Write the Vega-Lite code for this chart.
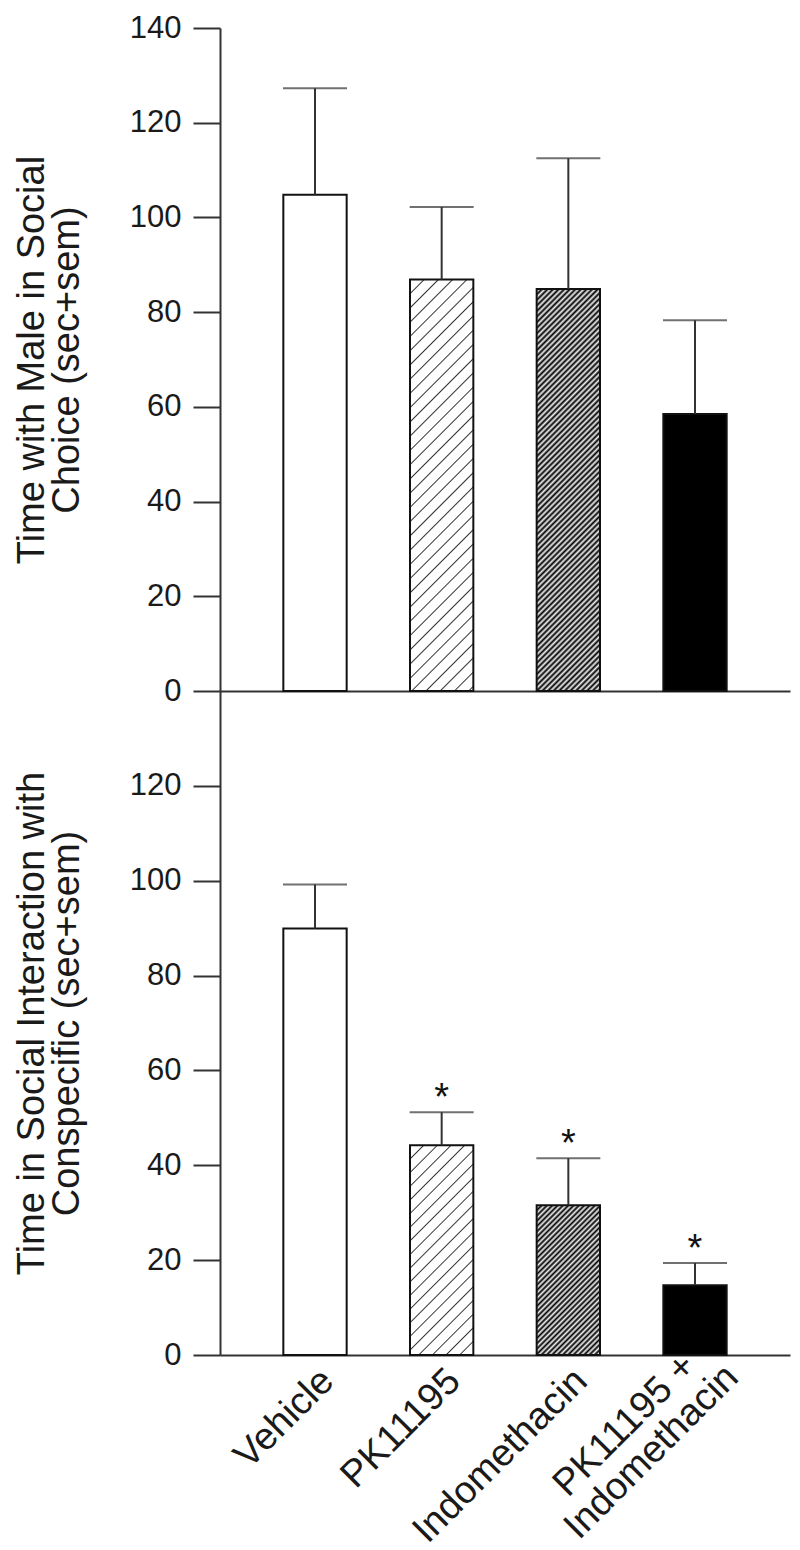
{
  "$schema": "https://vega.github.io/schema/vega-lite/v6.json",
  "background": "white",
  "padding": {"left": 13, "top": 12, "right": 5, "bottom": 5},
  "spacing": 0,
  "bounds": "flush",
  "config": {
    "view": {"stroke": null},
    "font": "Liberation Sans",
    "axis": {
      "domainColor": "#333333",
      "domainWidth": 2,
      "tickColor": "#333333",
      "tickWidth": 2,
      "grid": false,
      "labelColor": "#1a1a1a",
      "titleColor": "#1a1a1a",
      "labelFont": "Liberation Sans",
      "titleFont": "Liberation Sans",
      "titleFontWeight": "normal",
      "labelLimit": 0
    },
    "axisY": {
      "tickSize": 27,
      "labelPadding": 12,
      "labelFontSize": 31,
      "titleFontSize": 38,
      "titleLineHeight": 35,
      "titlePadding": 43
    }
  },
  "datasets": {
    "top": [
      {"group": "Vehicle", "mean": 104.8, "upper": 127.3},
      {"group": "PK11195", "mean": 86.9, "upper": 102.2},
      {"group": "Indomethacin", "mean": 84.9, "upper": 112.5},
      {"group": "PK11195 + Indomethacin", "mean": 58.5, "upper": 78.3}
    ],
    "bottom": [
      {"group": "Vehicle", "mean": 89.9, "upper": 99.2, "sig": ""},
      {"group": "PK11195", "mean": 44.2, "upper": 51.2, "sig": "*"},
      {"group": "Indomethacin", "mean": 31.6, "upper": 41.5, "sig": "*"},
      {"group": "PK11195 + Indomethacin", "mean": 14.7, "upper": 19.4, "sig": "*"}
    ]
  },
  "vconcat": [
    {
      "width": 570,
      "height": 663,
      "data": {"name": "top"},
      "encoding": {
        "x": {
          "field": "group",
          "type": "nominal",
          "scale": {"domain": ["Vehicle", "PK11195", "Indomethacin", "PK11195 + Indomethacin"], "paddingInner": 0.5, "paddingOuter": 0.5},
          "axis": {"labels": false, "ticks": false, "title": null, "domain": true}
        }
      },
      "layer": [
        {
          "transform": [{"filter": "datum.group === 'Vehicle' || datum.group === 'PK11195 + Indomethacin'"}],
          "mark": {"type": "bar", "stroke": "#111111", "strokeWidth": 2},
          "encoding": {
            "y": {
              "field": "mean",
              "type": "quantitative",
              "scale": {"domain": [0, 140], "nice": false},
              "axis": {"values": [0, 20, 40, 60, 80, 100, 120, 140], "title": ["Time with Male in Social", "Choice (sec+sem)"]}
            },
            "fill": {"field": "group", "type": "nominal", "scale": {"domain": ["Vehicle", "PK11195 + Indomethacin"], "range": ["#ffffff", "#000000"]}, "legend": null}
          }
        },
        {
          "transform": [{"filter": "datum.group === 'PK11195'"}],
          "mark": {"type": "bar", "stroke": "#111111", "strokeWidth": 2,
            "fill": {"gradient": "linear", "x1": 0, "y1": 0, "x2": 0.1735, "y2": 1.1274, "stops": [
              {"offset":0.027,"color":"#fff"},{"offset":0.03,"color":"#333"},{"offset":0.033,"color":"#fff"},
              {"offset":0.057,"color":"#fff"},{"offset":0.06,"color":"#333"},{"offset":0.063,"color":"#fff"},
              {"offset":0.087,"color":"#fff"},{"offset":0.09,"color":"#333"},{"offset":0.093,"color":"#fff"},
              {"offset":0.117,"color":"#fff"},{"offset":0.12,"color":"#333"},{"offset":0.123,"color":"#fff"},
              {"offset":0.147,"color":"#fff"},{"offset":0.15,"color":"#333"},{"offset":0.153,"color":"#fff"},
              {"offset":0.177,"color":"#fff"},{"offset":0.18,"color":"#333"},{"offset":0.183,"color":"#fff"},
              {"offset":0.207,"color":"#fff"},{"offset":0.21,"color":"#333"},{"offset":0.213,"color":"#fff"},
              {"offset":0.237,"color":"#fff"},{"offset":0.24,"color":"#333"},{"offset":0.243,"color":"#fff"},
              {"offset":0.267,"color":"#fff"},{"offset":0.27,"color":"#333"},{"offset":0.273,"color":"#fff"},
              {"offset":0.297,"color":"#fff"},{"offset":0.3,"color":"#333"},{"offset":0.303,"color":"#fff"},
              {"offset":0.327,"color":"#fff"},{"offset":0.33,"color":"#333"},{"offset":0.333,"color":"#fff"},
              {"offset":0.357,"color":"#fff"},{"offset":0.36,"color":"#333"},{"offset":0.363,"color":"#fff"},
              {"offset":0.387,"color":"#fff"},{"offset":0.39,"color":"#333"},{"offset":0.393,"color":"#fff"},
              {"offset":0.417,"color":"#fff"},{"offset":0.42,"color":"#333"},{"offset":0.423,"color":"#fff"},
              {"offset":0.447,"color":"#fff"},{"offset":0.45,"color":"#333"},{"offset":0.453,"color":"#fff"},
              {"offset":0.477,"color":"#fff"},{"offset":0.48,"color":"#333"},{"offset":0.483,"color":"#fff"},
              {"offset":0.507,"color":"#fff"},{"offset":0.51,"color":"#333"},{"offset":0.513,"color":"#fff"},
              {"offset":0.537,"color":"#fff"},{"offset":0.54,"color":"#333"},{"offset":0.543,"color":"#fff"},
              {"offset":0.567,"color":"#fff"},{"offset":0.57,"color":"#333"},{"offset":0.573,"color":"#fff"},
              {"offset":0.597,"color":"#fff"},{"offset":0.6,"color":"#333"},{"offset":0.603,"color":"#fff"},
              {"offset":0.627,"color":"#fff"},{"offset":0.63,"color":"#333"},{"offset":0.633,"color":"#fff"},
              {"offset":0.657,"color":"#fff"},{"offset":0.66,"color":"#333"},{"offset":0.663,"color":"#fff"},
              {"offset":0.687,"color":"#fff"},{"offset":0.69,"color":"#333"},{"offset":0.693,"color":"#fff"},
              {"offset":0.717,"color":"#fff"},{"offset":0.72,"color":"#333"},{"offset":0.723,"color":"#fff"},
              {"offset":0.747,"color":"#fff"},{"offset":0.75,"color":"#333"},{"offset":0.753,"color":"#fff"},
              {"offset":0.777,"color":"#fff"},{"offset":0.78,"color":"#333"},{"offset":0.783,"color":"#fff"},
              {"offset":0.807,"color":"#fff"},{"offset":0.81,"color":"#333"},{"offset":0.813,"color":"#fff"},
              {"offset":0.837,"color":"#fff"},{"offset":0.84,"color":"#333"},{"offset":0.843,"color":"#fff"},
              {"offset":0.867,"color":"#fff"},{"offset":0.87,"color":"#333"},{"offset":0.873,"color":"#fff"},
              {"offset":0.897,"color":"#fff"},{"offset":0.9,"color":"#333"},{"offset":0.903,"color":"#fff"},
              {"offset":0.927,"color":"#fff"},{"offset":0.93,"color":"#333"},{"offset":0.933,"color":"#fff"},
              {"offset":0.957,"color":"#fff"},{"offset":0.96,"color":"#333"},{"offset":0.963,"color":"#fff"},
              {"offset":0.987,"color":"#fff"},{"offset":0.99,"color":"#333"},{"offset":0.993,"color":"#fff"}
            ]}},
          "encoding": {"y": {"field": "mean", "type": "quantitative"}}
        },
        {
          "transform": [{"filter": "datum.group === 'Indomethacin'"}],
          "mark": {"type": "bar", "stroke": "#111111", "strokeWidth": 2,
            "fill": {"gradient": "linear", "x1": 0, "y1": 0, "x2": 0.1779, "y2": 1.1294, "stops": [
              {"offset":0,"color":"#000"},{"offset":0.006,"color":"#eee"},{"offset":0.012,"color":"#000"},{"offset":0.018,"color":"#eee"},
              {"offset":0.024,"color":"#000"},{"offset":0.03,"color":"#eee"},{"offset":0.036,"color":"#000"},{"offset":0.042,"color":"#eee"},
              {"offset":0.048,"color":"#000"},{"offset":0.054,"color":"#eee"},{"offset":0.06,"color":"#000"},{"offset":0.066,"color":"#eee"},
              {"offset":0.072,"color":"#000"},{"offset":0.078,"color":"#eee"},{"offset":0.084,"color":"#000"},{"offset":0.09,"color":"#eee"},
              {"offset":0.096,"color":"#000"},{"offset":0.102,"color":"#eee"},{"offset":0.108,"color":"#000"},{"offset":0.114,"color":"#eee"},
              {"offset":0.12,"color":"#000"},{"offset":0.126,"color":"#eee"},{"offset":0.132,"color":"#000"},{"offset":0.138,"color":"#eee"},
              {"offset":0.144,"color":"#000"},{"offset":0.15,"color":"#eee"},{"offset":0.156,"color":"#000"},{"offset":0.162,"color":"#eee"},
              {"offset":0.168,"color":"#000"},{"offset":0.174,"color":"#eee"},{"offset":0.18,"color":"#000"},{"offset":0.186,"color":"#eee"},
              {"offset":0.192,"color":"#000"},{"offset":0.198,"color":"#eee"},{"offset":0.204,"color":"#000"},{"offset":0.21,"color":"#eee"},
              {"offset":0.216,"color":"#000"},{"offset":0.222,"color":"#eee"},{"offset":0.228,"color":"#000"},{"offset":0.234,"color":"#eee"},
              {"offset":0.24,"color":"#000"},{"offset":0.246,"color":"#eee"},{"offset":0.252,"color":"#000"},{"offset":0.258,"color":"#eee"},
              {"offset":0.264,"color":"#000"},{"offset":0.27,"color":"#eee"},{"offset":0.276,"color":"#000"},{"offset":0.282,"color":"#eee"},
              {"offset":0.288,"color":"#000"},{"offset":0.294,"color":"#eee"},{"offset":0.3,"color":"#000"},{"offset":0.306,"color":"#eee"},
              {"offset":0.312,"color":"#000"},{"offset":0.318,"color":"#eee"},{"offset":0.324,"color":"#000"},{"offset":0.33,"color":"#eee"},
              {"offset":0.336,"color":"#000"},{"offset":0.342,"color":"#eee"},{"offset":0.348,"color":"#000"},{"offset":0.354,"color":"#eee"},
              {"offset":0.36,"color":"#000"},{"offset":0.366,"color":"#eee"},{"offset":0.372,"color":"#000"},{"offset":0.378,"color":"#eee"},
              {"offset":0.384,"color":"#000"},{"offset":0.39,"color":"#eee"},{"offset":0.396,"color":"#000"},{"offset":0.402,"color":"#eee"},
              {"offset":0.408,"color":"#000"},{"offset":0.414,"color":"#eee"},{"offset":0.42,"color":"#000"},{"offset":0.426,"color":"#eee"},
              {"offset":0.432,"color":"#000"},{"offset":0.438,"color":"#eee"},{"offset":0.444,"color":"#000"},{"offset":0.45,"color":"#eee"},
              {"offset":0.456,"color":"#000"},{"offset":0.462,"color":"#eee"},{"offset":0.468,"color":"#000"},{"offset":0.474,"color":"#eee"},
              {"offset":0.48,"color":"#000"},{"offset":0.486,"color":"#eee"},{"offset":0.492,"color":"#000"},{"offset":0.498,"color":"#eee"},
              {"offset":0.504,"color":"#000"},{"offset":0.51,"color":"#eee"},{"offset":0.516,"color":"#000"},{"offset":0.522,"color":"#eee"},
              {"offset":0.528,"color":"#000"},{"offset":0.534,"color":"#eee"},{"offset":0.54,"color":"#000"},{"offset":0.546,"color":"#eee"},
              {"offset":0.552,"color":"#000"},{"offset":0.558,"color":"#eee"},{"offset":0.564,"color":"#000"},{"offset":0.57,"color":"#eee"},
              {"offset":0.576,"color":"#000"},{"offset":0.582,"color":"#eee"},{"offset":0.588,"color":"#000"},{"offset":0.594,"color":"#eee"},
              {"offset":0.6,"color":"#000"},{"offset":0.606,"color":"#eee"},{"offset":0.612,"color":"#000"},{"offset":0.618,"color":"#eee"},
              {"offset":0.624,"color":"#000"},{"offset":0.63,"color":"#eee"},{"offset":0.636,"color":"#000"},{"offset":0.642,"color":"#eee"},
              {"offset":0.648,"color":"#000"},{"offset":0.654,"color":"#eee"},{"offset":0.66,"color":"#000"},{"offset":0.666,"color":"#eee"},
              {"offset":0.672,"color":"#000"},{"offset":0.678,"color":"#eee"},{"offset":0.684,"color":"#000"},{"offset":0.69,"color":"#eee"},
              {"offset":0.696,"color":"#000"},{"offset":0.702,"color":"#eee"},{"offset":0.708,"color":"#000"},{"offset":0.714,"color":"#eee"},
              {"offset":0.72,"color":"#000"},{"offset":0.726,"color":"#eee"},{"offset":0.732,"color":"#000"},{"offset":0.738,"color":"#eee"},
              {"offset":0.744,"color":"#000"},{"offset":0.75,"color":"#eee"},{"offset":0.756,"color":"#000"},{"offset":0.762,"color":"#eee"},
              {"offset":0.768,"color":"#000"},{"offset":0.774,"color":"#eee"},{"offset":0.78,"color":"#000"},{"offset":0.786,"color":"#eee"},
              {"offset":0.792,"color":"#000"},{"offset":0.798,"color":"#eee"},{"offset":0.804,"color":"#000"},{"offset":0.81,"color":"#eee"},
              {"offset":0.816,"color":"#000"},{"offset":0.822,"color":"#eee"},{"offset":0.828,"color":"#000"},{"offset":0.834,"color":"#eee"},
              {"offset":0.84,"color":"#000"},{"offset":0.846,"color":"#eee"},{"offset":0.852,"color":"#000"},{"offset":0.858,"color":"#eee"},
              {"offset":0.864,"color":"#000"},{"offset":0.87,"color":"#eee"},{"offset":0.876,"color":"#000"},{"offset":0.882,"color":"#eee"},
              {"offset":0.888,"color":"#000"},{"offset":0.894,"color":"#eee"},{"offset":0.9,"color":"#000"},{"offset":0.906,"color":"#eee"},
              {"offset":0.912,"color":"#000"},{"offset":0.918,"color":"#eee"},{"offset":0.924,"color":"#000"},{"offset":0.93,"color":"#eee"},
              {"offset":0.936,"color":"#000"},{"offset":0.942,"color":"#eee"},{"offset":0.948,"color":"#000"},{"offset":0.954,"color":"#eee"},
              {"offset":0.96,"color":"#000"},{"offset":0.966,"color":"#eee"},{"offset":0.972,"color":"#000"},{"offset":0.978,"color":"#eee"},
              {"offset":0.984,"color":"#000"},{"offset":0.99,"color":"#eee"},{"offset":0.996,"color":"#000"}
            ]}},
          "encoding": {"y": {"field": "mean", "type": "quantitative"}}
        },
        {
          "mark": {"type": "rule", "color": "#333333", "strokeWidth": 2},
          "encoding": {"y": {"field": "mean", "type": "quantitative"}, "y2": {"field": "upper"}}
        },
        {
          "mark": {"type": "tick", "color": "#333333", "thickness": 2, "size": 64},
          "encoding": {"y": {"field": "upper", "type": "quantitative"}}
        }
      ]
    },
    {
      "width": 570,
      "height": 664,
      "data": {"name": "bottom"},
      "encoding": {
        "x": {
          "field": "group",
          "type": "nominal",
          "scale": {"domain": ["Vehicle", "PK11195", "Indomethacin", "PK11195 + Indomethacin"], "paddingInner": 0.5, "paddingOuter": 0.5},
          "axis": {
            "title": null,
            "ticks": false,
            "labelAngle": -45,
            "labelFontSize": 38,
            "labelLineHeight": 38,
            "labelBaseline": "middle",
            "labelAlign": {"condition": {"test": "datum.value === 'PK11195 + Indomethacin'", "value": "center"}, "value": "right"},
            "labelOffset": {"condition": {"test": "datum.value === 'PK11195 + Indomethacin'", "value": -70}, "value": 13},
            "labelPadding": {"condition": {"test": "datum.value === 'PK11195 + Indomethacin'", "value": 70}, "value": 20},
            "labelExpr": "datum.value === 'PK11195 + Indomethacin' ? ['PK11195 +', 'Indomethacin'] : datum.label"
          }
        }
      },
      "layer": [
        {
          "transform": [{"filter": "datum.group === 'Vehicle' || datum.group === 'PK11195 + Indomethacin'"}],
          "mark": {"type": "bar", "stroke": "#111111", "strokeWidth": 2},
          "encoding": {
            "y": {
              "field": "mean",
              "type": "quantitative",
              "scale": {"domain": [0, 140], "nice": false},
              "axis": {"values": [0, 20, 40, 60, 80, 100, 120], "title": ["Time in Social Interaction with", "Conspecific (sec+sem)"]}
            },
            "fill": {"field": "group", "type": "nominal", "scale": {"domain": ["Vehicle", "PK11195 + Indomethacin"], "range": ["#ffffff", "#000000"]}, "legend": null}
          }
        },
        {
          "transform": [{"filter": "datum.group === 'PK11195'"}],
          "mark": {"type": "bar", "stroke": "#111111", "strokeWidth": 2,
            "fill": {"gradient": "linear", "x1": 0, "y1": 0, "x2": 0.3605, "y2": 1.1931, "stops": [
              {"offset":0.045,"color":"#fff"},{"offset":0.05,"color":"#333"},{"offset":0.055,"color":"#fff"},
              {"offset":0.095,"color":"#fff"},{"offset":0.1,"color":"#333"},{"offset":0.105,"color":"#fff"},
              {"offset":0.145,"color":"#fff"},{"offset":0.15,"color":"#333"},{"offset":0.155,"color":"#fff"},
              {"offset":0.195,"color":"#fff"},{"offset":0.2,"color":"#333"},{"offset":0.205,"color":"#fff"},
              {"offset":0.245,"color":"#fff"},{"offset":0.25,"color":"#333"},{"offset":0.255,"color":"#fff"},
              {"offset":0.295,"color":"#fff"},{"offset":0.3,"color":"#333"},{"offset":0.305,"color":"#fff"},
              {"offset":0.345,"color":"#fff"},{"offset":0.35,"color":"#333"},{"offset":0.355,"color":"#fff"},
              {"offset":0.395,"color":"#fff"},{"offset":0.4,"color":"#333"},{"offset":0.405,"color":"#fff"},
              {"offset":0.445,"color":"#fff"},{"offset":0.45,"color":"#333"},{"offset":0.455,"color":"#fff"},
              {"offset":0.495,"color":"#fff"},{"offset":0.5,"color":"#333"},{"offset":0.505,"color":"#fff"},
              {"offset":0.545,"color":"#fff"},{"offset":0.55,"color":"#333"},{"offset":0.555,"color":"#fff"},
              {"offset":0.595,"color":"#fff"},{"offset":0.6,"color":"#333"},{"offset":0.605,"color":"#fff"},
              {"offset":0.645,"color":"#fff"},{"offset":0.65,"color":"#333"},{"offset":0.655,"color":"#fff"},
              {"offset":0.695,"color":"#fff"},{"offset":0.7,"color":"#333"},{"offset":0.705,"color":"#fff"},
              {"offset":0.745,"color":"#fff"},{"offset":0.75,"color":"#333"},{"offset":0.755,"color":"#fff"},
              {"offset":0.795,"color":"#fff"},{"offset":0.8,"color":"#333"},{"offset":0.805,"color":"#fff"},
              {"offset":0.845,"color":"#fff"},{"offset":0.85,"color":"#333"},{"offset":0.855,"color":"#fff"},
              {"offset":0.895,"color":"#fff"},{"offset":0.9,"color":"#333"},{"offset":0.905,"color":"#fff"},
              {"offset":0.945,"color":"#fff"},{"offset":0.95,"color":"#333"},{"offset":0.955,"color":"#fff"}
            ]}},
          "encoding": {"y": {"field": "mean", "type": "quantitative"}}
        },
        {
          "transform": [{"filter": "datum.group === 'Indomethacin'"}],
          "mark": {"type": "bar", "stroke": "#111111", "strokeWidth": 2,
            "fill": {"gradient": "linear", "x1": 0, "y1": 0, "x2": 0.5099, "y2": 1.2069, "stops": [
              {"offset":0,"color":"#000"},{"offset":0.0125,"color":"#eee"},{"offset":0.025,"color":"#000"},{"offset":0.0375,"color":"#eee"},
              {"offset":0.05,"color":"#000"},{"offset":0.0625,"color":"#eee"},{"offset":0.075,"color":"#000"},{"offset":0.0875,"color":"#eee"},
              {"offset":0.1,"color":"#000"},{"offset":0.1125,"color":"#eee"},{"offset":0.125,"color":"#000"},{"offset":0.1375,"color":"#eee"},
              {"offset":0.15,"color":"#000"},{"offset":0.1625,"color":"#eee"},{"offset":0.175,"color":"#000"},{"offset":0.1875,"color":"#eee"},
              {"offset":0.2,"color":"#000"},{"offset":0.2125,"color":"#eee"},{"offset":0.225,"color":"#000"},{"offset":0.2375,"color":"#eee"},
              {"offset":0.25,"color":"#000"},{"offset":0.2625,"color":"#eee"},{"offset":0.275,"color":"#000"},{"offset":0.2875,"color":"#eee"},
              {"offset":0.3,"color":"#000"},{"offset":0.3125,"color":"#eee"},{"offset":0.325,"color":"#000"},{"offset":0.3375,"color":"#eee"},
              {"offset":0.35,"color":"#000"},{"offset":0.3625,"color":"#eee"},{"offset":0.375,"color":"#000"},{"offset":0.3875,"color":"#eee"},
              {"offset":0.4,"color":"#000"},{"offset":0.4125,"color":"#eee"},{"offset":0.425,"color":"#000"},{"offset":0.4375,"color":"#eee"},
              {"offset":0.45,"color":"#000"},{"offset":0.4625,"color":"#eee"},{"offset":0.475,"color":"#000"},{"offset":0.4875,"color":"#eee"},
              {"offset":0.5,"color":"#000"},{"offset":0.5125,"color":"#eee"},{"offset":0.525,"color":"#000"},{"offset":0.5375,"color":"#eee"},
              {"offset":0.55,"color":"#000"},{"offset":0.5625,"color":"#eee"},{"offset":0.575,"color":"#000"},{"offset":0.5875,"color":"#eee"},
              {"offset":0.6,"color":"#000"},{"offset":0.6125,"color":"#eee"},{"offset":0.625,"color":"#000"},{"offset":0.6375,"color":"#eee"},
              {"offset":0.65,"color":"#000"},{"offset":0.6625,"color":"#eee"},{"offset":0.675,"color":"#000"},{"offset":0.6875,"color":"#eee"},
              {"offset":0.7,"color":"#000"},{"offset":0.7125,"color":"#eee"},{"offset":0.725,"color":"#000"},{"offset":0.7375,"color":"#eee"},
              {"offset":0.75,"color":"#000"},{"offset":0.7625,"color":"#eee"},{"offset":0.775,"color":"#000"},{"offset":0.7875,"color":"#eee"},
              {"offset":0.8,"color":"#000"},{"offset":0.8125,"color":"#eee"},{"offset":0.825,"color":"#000"},{"offset":0.8375,"color":"#eee"},
              {"offset":0.85,"color":"#000"},{"offset":0.8625,"color":"#eee"},{"offset":0.875,"color":"#000"},{"offset":0.8875,"color":"#eee"},
              {"offset":0.9,"color":"#000"},{"offset":0.9125,"color":"#eee"},{"offset":0.925,"color":"#000"},{"offset":0.9375,"color":"#eee"},
              {"offset":0.95,"color":"#000"},{"offset":0.9625,"color":"#eee"},{"offset":0.975,"color":"#000"},{"offset":0.9875,"color":"#eee"},
              {"offset":1,"color":"#000"}
            ]}},
          "encoding": {"y": {"field": "mean", "type": "quantitative"}}
        },
        {
          "mark": {"type": "rule", "color": "#333333", "strokeWidth": 2},
          "encoding": {"y": {"field": "mean", "type": "quantitative"}, "y2": {"field": "upper"}}
        },
        {
          "mark": {"type": "tick", "color": "#333333", "thickness": 2, "size": 64},
          "encoding": {"y": {"field": "upper", "type": "quantitative"}}
        },
        {
          "mark": {"type": "text", "fontSize": 38, "baseline": "alphabetic", "dy": -2, "color": "#111111"},
          "encoding": {"y": {"field": "upper", "type": "quantitative"}, "text": {"field": "sig"}}
        }
      ]
    }
  ]
}
